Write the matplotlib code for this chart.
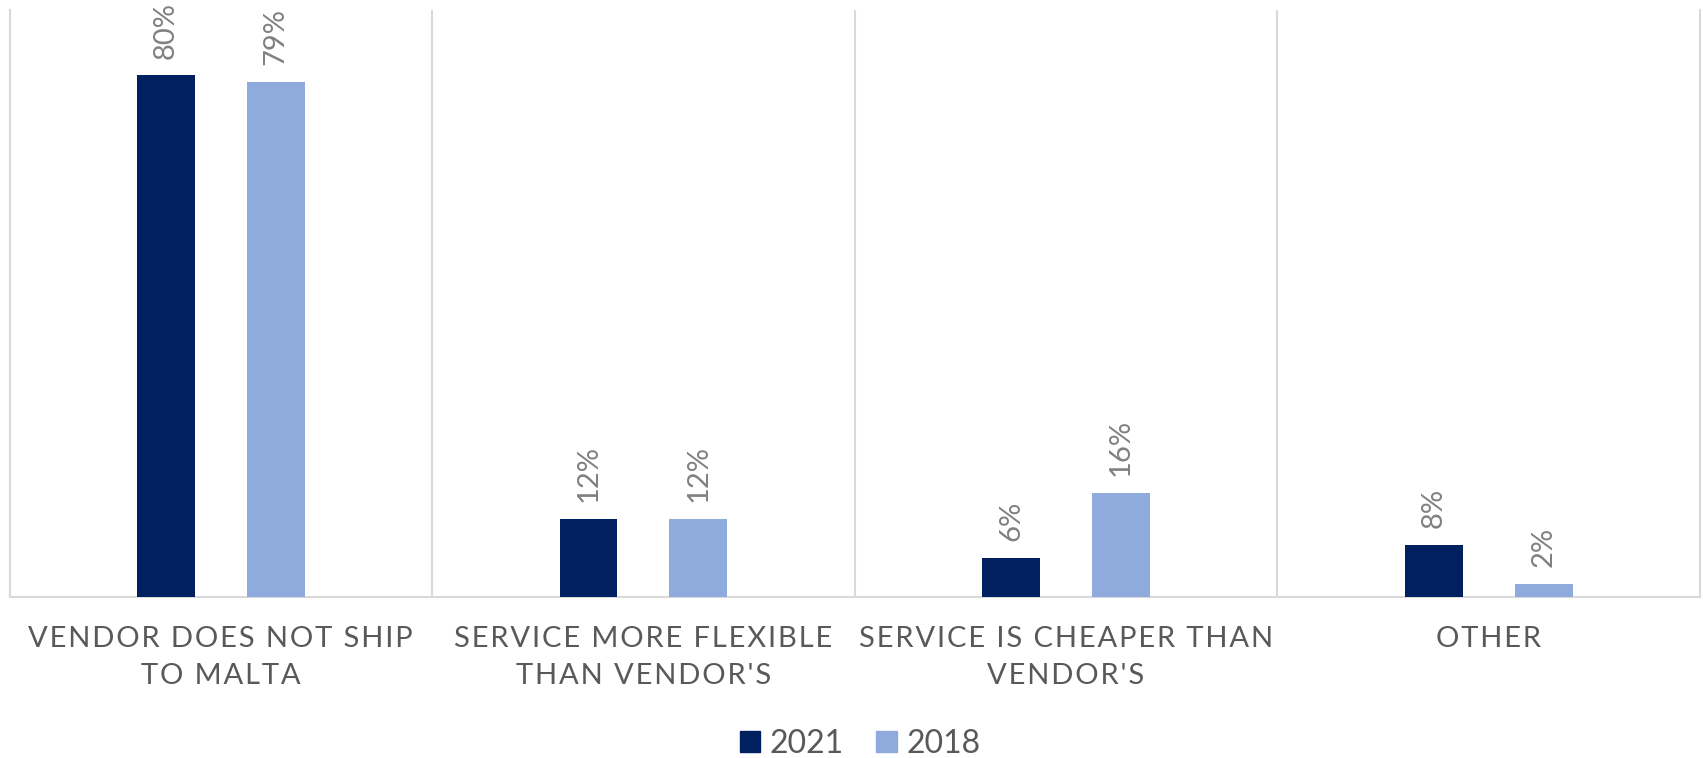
import numpy as np
import matplotlib.pyplot as plt
from matplotlib.patches import Patch

categories = ["VENDOR DOES NOT SHIP\nTO MALTA",
              "SERVICE MORE FLEXIBLE\nTHAN VENDOR'S",
              "SERVICE IS CHEAPER THAN\nVENDOR'S",
              "OTHER"]
series_names = ["2021", "2018"]
values_2021 = [80, 12, 6, 8]
values_2018 = [79, 12, 16, 2]

dark = "#002060"
light = "#8faadc"
grid_col = "#d9d9d9"
label_col = "#595959"
value_col = "#808080"

plt.rcParams['font.family'] = ['Lato', 'DejaVu Sans']


def spaced(s):
    # wide letter spacing for the category captions
    return "\n".join("\u200a".join(line) for line in s.split("\n"))


W, H = 1703, 758
fig = plt.figure(figsize=(W / 100, H / 100), dpi=100)
ax = fig.add_axes([9.5 / W, 1 - 597 / H, (1700 - 9.5) / W, (597 - 10) / H])

x = np.arange(len(categories))
off = 0.13
bw = 0.137
b1 = ax.bar(x - off, values_2021, bw, color=dark, zorder=3)
b2 = ax.bar(x + off, values_2018, bw, color=light, zorder=3)

for bars, vals in ((b1, values_2021), (b2, values_2018)):
    for rect, v in zip(bars, vals):
        ax.annotate(f"{v}%", (rect.get_x() + rect.get_width() / 2, v),
                    xytext=(0, 12), textcoords="offset points",
                    rotation=90, ha="center", va="bottom",
                    fontsize=21, color=value_col)

ax.set_xlim(-0.5, len(categories) - 0.5)
ax.set_ylim(0, 90)
for b in np.arange(0.5, len(categories) - 0.5):
    ax.axvline(b, color=grid_col, lw=1.5, zorder=1)
ax.spines["top"].set_visible(False)
for side in ("left", "right", "bottom"):
    ax.spines[side].set_color(grid_col)
    ax.spines[side].set_linewidth(1.5)
ax.set_xticks([])
ax.set_yticks([])

for xi, cat in zip(x, categories):
    ax.text(xi, -0.05, spaced(cat), transform=ax.get_xaxis_transform(),
            ha="center", va="top", fontsize=21, color=label_col,
            linespacing=1.52, multialignment="center")

handles = [Patch(color=dark, label=series_names[0]),
           Patch(color=light, label=series_names[1])]
fig.legend(handles=handles, loc="center", bbox_to_anchor=(860 / W, 1 - 744 / H),
           ncol=2, frameon=False, fontsize=23, handlelength=0.65,
           handleheight=0.65, handletextpad=0.3, columnspacing=1.0,
           labelcolor=label_col)

fig.savefig("out.png", dpi=100)
